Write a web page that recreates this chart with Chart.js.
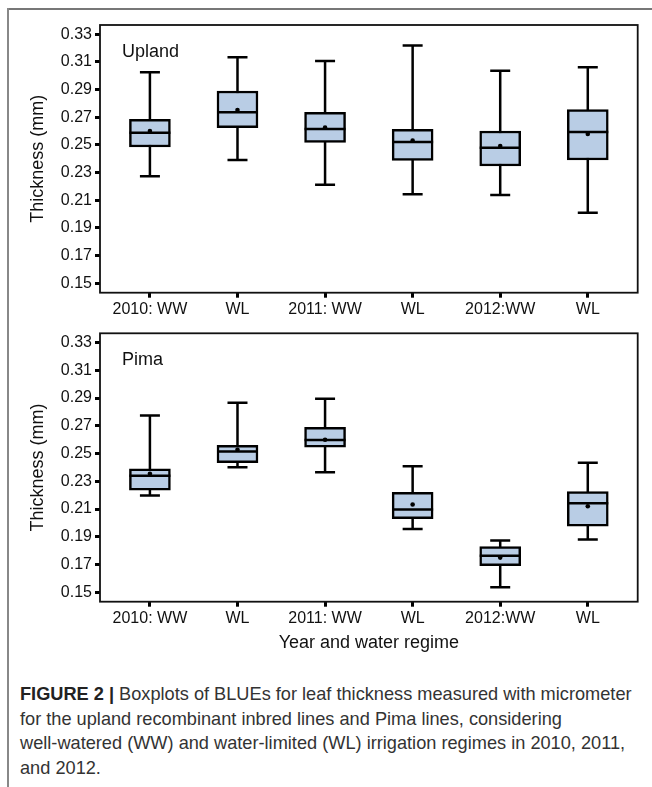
<!DOCTYPE html>
<html>
<head>
<meta charset="utf-8">
<script src="https://cdn.jsdelivr.net/npm/chart.js@4.4.1/dist/chart.umd.min.js"></script>
<style>
	html, body { margin: 0; padding: 0; background: #fff; }
	body { width: 652px; height: 787px; position: relative; overflow: hidden; font-family: 'Liberation Sans', Arial, sans-serif; }
	.frame-top { position: absolute; left: 7px; top: 8px; width: 645px; height: 2px; background: #777; z-index: 2; }
	.frame-left { position: absolute; left: 7px; top: 8px; width: 2px; height: 779px; background: #888; z-index: 2; }
	.panel { position: absolute; left: 0; width: 652px; }
	#upland-wrap { top: 0; height: 320px; }
	#pima-wrap { top: 310px; height: 350px; }
	.caption { position: absolute; left: 20px; top: 682px; width: 630px; font-size: 18.2px; line-height: 24.6px; color: #333; white-space: nowrap; }
	.caption b { color: #222; }
</style>
</head>
<body>
<div class="frame-top"></div>
<div class="frame-left"></div>
<div class="panel" id="upland-wrap"><canvas id="upland"></canvas></div>
<div class="panel" id="pima-wrap"><canvas id="pima"></canvas></div>
<div class="caption"><b>FIGURE 2 |</b> Boxplots of BLUEs for leaf thickness measured with micrometer<br>for the upland recombinant inbred lines and Pima lines, considering<br>well-watered (WW) and water-limited (WL) irrigation regimes in 2010, 2011,<br>and 2012.</div>

<script>
const categories = ['2010: WW', 'WL', '2011: WW', 'WL', '2012:WW', 'WL'];
const yTicks = [0.15, 0.17, 0.19, 0.21, 0.23, 0.25, 0.27, 0.29, 0.31, 0.33];

// Upland RILs
const uplandMin = [0.2273, 0.2391, 0.2213, 0.2143, 0.2138, 0.2010];
const uplandQ1 = [0.2485, 0.2625, 0.2519, 0.2389, 0.2348, 0.2391];
const uplandMedian = [0.2589, 0.2736, 0.2615, 0.2521, 0.2480, 0.2594];
const uplandQ3 = [0.2685, 0.2890, 0.2736, 0.2613, 0.2601, 0.2755];
const uplandMax = [0.3025, 0.3134, 0.3107, 0.3218, 0.3037, 0.3061];
const uplandMean = [0.2601, 0.2753, 0.2625, 0.2531, 0.2492, 0.2579];

// Pima lines
const pimaMin = [0.2198, 0.2402, 0.2366, 0.1957, 0.1536, 0.1880];
const pimaQ1 = [0.2236, 0.2434, 0.2546, 0.2031, 0.1692, 0.1976];
const pimaMedian = [0.2340, 0.2515, 0.2597, 0.2097, 0.1764, 0.2142];
const pimaQ3 = [0.2390, 0.2559, 0.2689, 0.2221, 0.1829, 0.2226];
const pimaMax = [0.2775, 0.2867, 0.2896, 0.2409, 0.1873, 0.2434];
const pimaMean = [0.2354, 0.2527, 0.2600, 0.2133, 0.1750, 0.2120];

const fontFamily = "'Liberation Sans', Arial, sans-serif";
const boxFill = '#b9cde5';
const lineW = 2.5;

// whiskers under the boxes, medians + frame + panel label on top
const boxplotParts = {
	id: 'boxplotParts',
	beforeDatasetsDraw(chart, args, opts) {
		const { ctx, scales: { x, y } } = chart;
		ctx.save();
		ctx.strokeStyle = '#000';
		ctx.lineWidth = lineW;
		opts.min.forEach((lo, i) => {
			const cx = x.getPixelForValue(i);
			const hi = opts.max[i];
			ctx.beginPath();
			ctx.moveTo(cx, y.getPixelForValue(lo));
			ctx.lineTo(cx, y.getPixelForValue(hi));
			ctx.moveTo(cx - 10, y.getPixelForValue(lo));
			ctx.lineTo(cx + 10, y.getPixelForValue(lo));
			ctx.moveTo(cx - 10, y.getPixelForValue(hi));
			ctx.lineTo(cx + 10, y.getPixelForValue(hi));
			ctx.stroke();
		});
		ctx.restore();
	},
	afterDatasetsDraw(chart, args, opts) {
		const { ctx, chartArea, scales: { x, y } } = chart;
		ctx.save();
		ctx.strokeStyle = '#000';
		ctx.lineWidth = lineW;
		opts.median.forEach((m, i) => {
			const cx = x.getPixelForValue(i);
			const py = y.getPixelForValue(m);
			ctx.beginPath();
			ctx.moveTo(cx - 20.5, py);
			ctx.lineTo(cx + 20.5, py);
			ctx.stroke();
		});
		ctx.lineWidth = 1.8;
		ctx.strokeStyle = '#111';
		ctx.strokeRect(chartArea.left, chartArea.top, chartArea.right - chartArea.left, chartArea.bottom - chartArea.top);
		ctx.fillStyle = '#111';
		ctx.font = '18px ' + fontFamily;
		ctx.textBaseline = 'middle';
		ctx.fillText(opts.label, chartArea.left + 22, chartArea.top + 27);
		ctx.restore();
	},
};

function makePanel(canvasId, label, stats, layout) {
	const ctx = document.getElementById(canvasId);
	return new Chart(ctx, {
		type: 'bar',
		data: {
			datasets: [
				{
					type: 'scatter',
					data: stats.mean.map((v, i) => ({ x: i, y: v })),
					pointRadius: 2.3,
					pointBackgroundColor: '#000',
					pointBorderWidth: 0,
					order: 1,
				},
				{
					type: 'bar',
					data: stats.q1.map((v, i) => ({ x: i, y: [v, stats.q3[i]] })),
					backgroundColor: boxFill,
					borderColor: '#000',
					borderWidth: lineW,
					borderSkipped: false,
					barThickness: 41,
					order: 2,
				},
			],
		},
		options: {
			responsive: true,
			maintainAspectRatio: false,
			animation: false,
			layout: { padding: { top: layout.top, right: 14.3, left: 0, bottom: 0 } },
			plugins: {
				legend: { display: false },
				tooltip: { enabled: false },
				boxplotParts: { label, min: stats.min, max: stats.max, median: stats.median },
			},
			scales: {
				x: {
					type: 'linear',
					min: -0.57,
					max: 5.57,
					offset: false,
					afterBuildTicks(scale) {
						scale.ticks = categories.map((c, i) => ({ value: i }));
					},
					afterFit(scale) {
						scale.height = layout.xHeight;
					},
					ticks: {
						color: '#111',
						font: { size: 16, family: fontFamily },
						padding: 2,
						maxRotation: 0,
						autoSkip: false,
						callback: (value) => categories[value],
					},
					grid: { display: true, offset: false, drawOnChartArea: false, drawTicks: true, tickLength: 5, tickWidth: 3, tickColor: '#000' },
					border: { display: false },
					title: {
						display: layout.xTitle,
						text: 'Year and water regime',
						color: '#111',
						font: { size: 18, family: fontFamily },
						padding: { top: 0, bottom: 6 },
					},
				},
				y: {
					min: 0.1432,
					max: 0.3367,
					afterBuildTicks(scale) {
						scale.ticks = yTicks.map((v) => ({ value: v }));
					},
					afterFit(scale) {
						scale.width = 100;
					},
					ticks: {
						color: '#111',
						font: { size: 16, family: fontFamily },
						padding: 3,
						callback: (value) => value.toFixed(2),
					},
					grid: { display: true, drawOnChartArea: false, drawTicks: true, tickLength: 5, tickWidth: 3, tickColor: '#000' },
					border: { display: false },
					title: {
						display: true,
						text: 'Thickness (mm)',
						color: '#111',
						font: { size: 18, family: fontFamily },
						padding: { top: 27, bottom: 0 },
					},
				},
			},
		},
		plugins: [boxplotParts],
	});
}

makePanel('upland', 'Upland', {
	min: uplandMin, q1: uplandQ1, median: uplandMedian, q3: uplandQ3, max: uplandMax, mean: uplandMean,
}, { top: 25, xHeight: 27.3, xTitle: false });

makePanel('pima', 'Pima', {
	min: pimaMin, q1: pimaQ1, median: pimaMedian, q3: pimaQ3, max: pimaMax, mean: pimaMean,
}, { top: 23.3, xHeight: 58.3, xTitle: true });
</script>
</body>
</html>
